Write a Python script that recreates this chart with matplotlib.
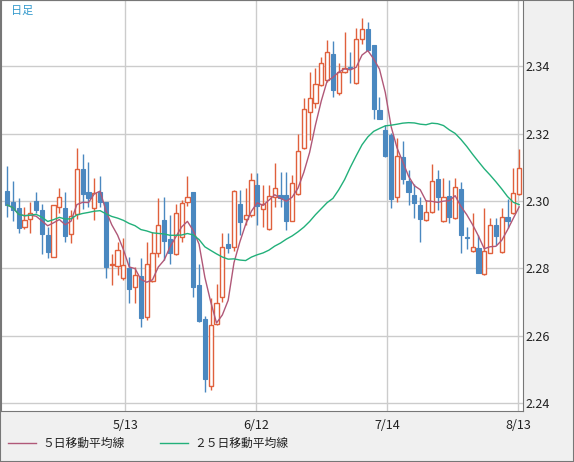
import matplotlib
matplotlib.use("Agg")
import matplotlib.pyplot as plt
import numpy as np
import pandas as pd

plt.rcParams['font.family'] = ['Noto Sans CJK JP', 'DejaVu Sans']

opens = [2.3030,2.2997,2.2979,2.2923,2.2947,2.3000,2.2973,2.2899,2.2834,2.2982,2.2979,2.2902,2.2961,2.3095,2.3027,2.2979,2.3027,2.2997,2.2810,2.2807,
         2.2772,2.2801,2.2745,2.2777,2.2656,2.2763,2.2846,2.2944,2.2887,2.2843,2.2893,2.2997,2.3027,2.2751,2.2650,2.2451,2.2635,2.2715,2.2872,2.2864,
         2.2991,2.2947,2.2958,2.3047,2.2976,2.2917,2.3012,2.3018,2.3018,2.2941,2.3021,2.3157,2.3264,2.3291,2.3344,2.3359,2.3436,2.3320,2.3383,2.3398,
         2.3350,2.3481,2.3510,2.3463,2.3270,2.3211,2.3196,2.3012,2.3131,2.3059,2.3018,2.2988,2.2944,2.2967,2.3065,2.2941,2.3015,2.2950,2.3036,2.2893,
         2.2852,2.2861,2.2783,2.2846,2.2929,2.2849,2.2953,2.2964,2.3021]
highs = [2.3104,2.3059,2.3009,2.2982,2.2997,2.3027,2.2991,2.2923,2.2988,2.3039,2.3027,2.2973,2.3157,2.3139,2.3116,2.3068,2.3074,2.2997,2.2843,2.2878,
         2.2890,2.2834,2.2804,2.2831,2.2878,2.2908,2.3009,2.3012,2.2958,2.2991,2.3003,2.3074,2.3027,2.2813,2.2659,2.2712,2.2754,2.2905,2.2905,2.3033,
         2.3033,2.3039,2.3083,2.3083,2.3047,2.3047,2.3113,2.3086,2.3086,2.3077,2.3199,2.3306,2.3383,2.3395,2.3427,2.3478,2.3475,2.3409,2.3501,2.3442,
         2.3513,2.3543,2.3531,2.3463,2.3309,2.3225,2.3202,2.3187,2.3178,2.3092,2.3050,2.3012,2.3003,2.3110,2.3092,2.3068,2.3062,2.3068,2.3056,2.2923,
         2.2964,2.2899,2.2979,2.2950,2.2950,2.2979,2.3006,2.3098,2.3154]
lows = [2.2953,2.2941,2.2905,2.2917,2.2905,2.2964,2.2843,2.2831,2.2834,2.2964,2.2878,2.2875,2.2947,2.2976,2.2982,2.2944,2.2982,2.2772,2.2751,2.2780,
        2.2766,2.2697,2.2697,2.2626,2.2647,2.2760,2.2834,2.2825,2.2813,2.2840,2.2878,2.2985,2.2715,2.2641,2.2433,2.2439,2.2632,2.2700,2.2846,2.2852,
        2.2899,2.2929,2.2953,2.2929,2.2923,2.2914,2.2982,2.2982,2.2914,2.2941,2.3018,2.3154,2.3181,2.3276,2.3341,2.3353,2.3309,2.3315,2.3380,2.3350,
        2.3347,2.3466,2.3445,2.3243,2.3243,2.3131,2.2979,2.2997,2.3050,2.2988,2.2950,2.2878,2.2941,2.2964,2.2973,2.2938,2.2935,2.2947,2.2846,2.2858,
        2.2849,2.2786,2.2780,2.2846,2.2869,2.2846,2.2920,2.2961,2.3018]
closes = [2.2988,2.2973,2.2920,2.2944,2.2964,2.2973,2.2902,2.2849,2.2988,2.3012,2.2896,2.2955,2.3095,2.3021,2.3009,2.3024,2.2997,2.2804,2.2813,2.2855,
          2.2810,2.2739,2.2780,2.2653,2.2813,2.2846,2.2929,2.2881,2.2846,2.2964,2.2994,2.3012,2.2745,2.2644,2.2472,2.2632,2.2697,2.2864,2.2861,2.3030,
          2.2938,2.2958,2.3062,2.2985,2.2991,2.3015,2.3039,2.3009,2.2941,2.3053,2.3148,2.3273,2.3306,2.3347,2.3409,2.3442,2.3329,2.3383,2.3395,2.3395,
          2.3481,2.3510,2.3448,2.3273,2.3243,2.3134,2.3006,2.3134,2.3065,2.3027,2.2994,2.2947,2.2967,2.3059,2.3012,2.3012,2.2953,2.3042,2.2899,2.2890,
          2.2864,2.2786,2.2852,2.2929,2.2896,2.2953,2.2941,2.3024,2.3098]
tick_pos = [20.3, 42.8, 65.3, 87.8]
tick_labels = ['5/13', '6/12', '7/14', '8/13']
y_ticks = [2.24, 2.26, 2.28, 2.30, 2.32, 2.34]

UP, DOWN = '#e0603c', '#4a88c0'
MA5C, MA25C = '#b05878', '#22b07a'

fig = plt.figure(figsize=(5.74, 4.62), dpi=100)
fig.patch.set_facecolor('#f0f0f0')
ax = fig.add_axes([1/574, 1 - 411/462, 522/574, 411/462])
ax.set_facecolor('white')
x = np.arange(len(opens))
o, h, l, c = map(np.array, (opens, highs, lows, closes))
up = c >= o
ax.vlines(x[up], l[up], h[up], color=UP, lw=1, zorder=3)
ax.vlines(x[~up], l[~up], h[~up], color=DOWN, lw=1, zorder=3)
w = 0.72
ax.bar(x[up], c[up] - o[up], bottom=o[up], width=w, facecolor='white', edgecolor=UP, lw=1, zorder=4)
ax.bar(x[~up], o[~up] - c[~up], bottom=c[~up], width=w, facecolor=DOWN, edgecolor=DOWN, lw=0.8, zorder=4)
s = pd.Series(closes)
ax.plot(x, s.rolling(5, min_periods=1).mean(), color=MA5C, lw=1, zorder=5)
ax.plot(x, s.rolling(25, min_periods=1).mean(), color=MA25C, lw=1, zorder=5)

ax.set_xlim(-1.03, 88.66)
ax.set_ylim(2.2377, 2.3596)
ax.set_xticks(tick_pos)
ax.set_xticklabels(tick_labels, fontsize=9, color='#222222')
ax.set_yticks(y_ticks)
ax.set_yticklabels([f'{v:.2f}' for v in y_ticks], fontsize=9, color='#222222', ha='left')
ax.yaxis.tick_right()
ax.tick_params(axis='y', length=0, pad=2)
ax.tick_params(axis='x', length=0, pad=6)
ax.grid(True, color='#cccccc', lw=1)
ax.set_axisbelow(True)
for sp in ax.spines.values():
    sp.set_color('#777777')
ax.text(0.02, 0.985, '日足', transform=ax.transAxes, fontsize=8, color='#3399cc', va='top')

fig.lines.append(plt.Line2D([8/574, 36/574], [19/462, 19/462], color=MA5C, lw=1, transform=fig.transFigure))
fig.text(42/574, 19/462, '５日移動平均線', fontsize=8.5, va='center', color='#222222')
fig.lines.append(plt.Line2D([160/574, 188/574], [19/462, 19/462], color=MA25C, lw=1, transform=fig.transFigure))
fig.text(194/574, 19/462, '２５日移動平均線', fontsize=8.5, va='center', color='#222222')
fig.add_artist(plt.Rectangle((0, 0), 1, 1, transform=fig.transFigure, fill=False, edgecolor='#777777', lw=1.5))
fig.savefig('out.png', dpi=100, facecolor=fig.get_facecolor())
